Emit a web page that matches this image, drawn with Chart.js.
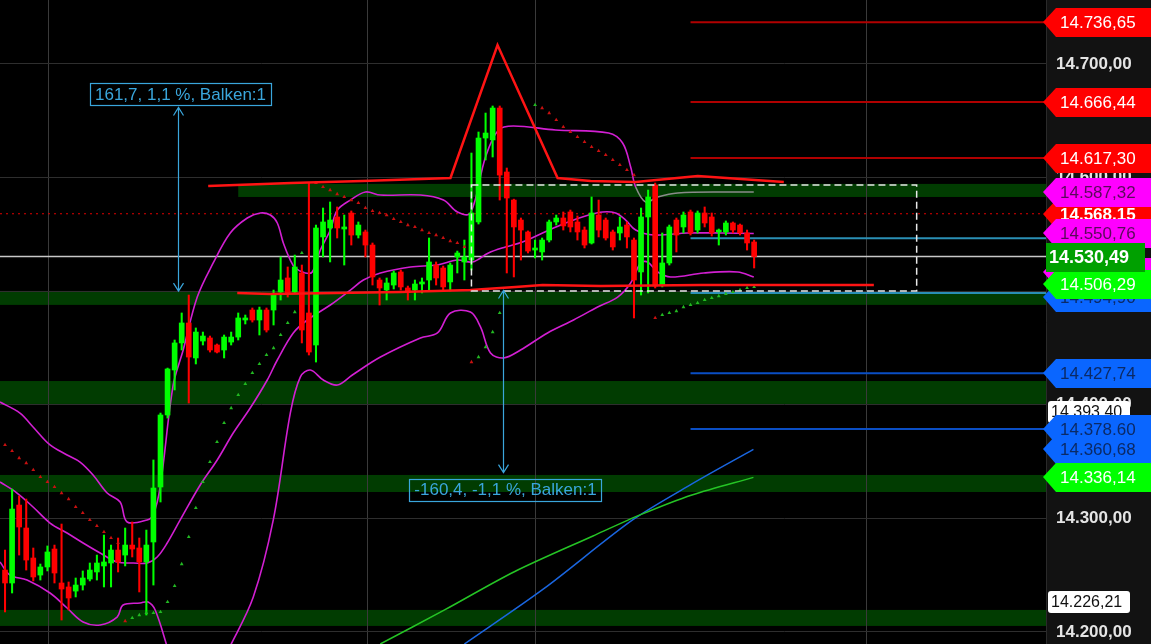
<!DOCTYPE html>
<html lang="de">
<head>
<meta charset="UTF-8">
<title>Chart</title>
<script src="https://cdn.jsdelivr.net/npm/chart.js"></script>
<style>
  body { margin: 0; background: #000; }
  #wrap { width: 1151px; height: 644px; }
</style>
</head>
<body>
<div id="wrap"><canvas id="c" width="1151" height="644"></canvas></div>
<script>
// candle data, one entry per bar
const opens = [14254.5,14243.1,14311.7,14291.5,14265.1,14250.1,14257.2,14273.0,14243.1,14239.6,
  14236.0,14241.3,14246.6,14252.8,14258.1,14260.7,14272.1,14267.7,14276.5,14273.9,
  14261.6,14279.2,14327.6,14391.0,14430.6,14454.4,14472.0,14441.2,14456.1,14458.8,
  14452.6,14448.2,14455.2,14459.6,14474.6,14483.4,14474.6,14483.4,14483.4,14499.3,
  14511.6,14499.3,14516.0,14480.8,14452.6,14547.7,14555.6,14565.3,14554.7,14568.8,
  14549.4,14552.1,14540.6,14509.8,14501.0,14505.4,14516.9,14502.8,14501.0,14506.3,
  14509.8,14523.0,14520.4,14508.1,14530.1,14525.7,14527.4,14560.9,14634.8,14633.1,
  14661.2,14604.9,14580.2,14562.6,14552.1,14536.2,14534.5,14545.0,14560.9,14564.4,
  14569.7,14560.9,14553.8,14542.4,14567.0,14562.6,14552.1,14551.2,14558.2,14545.0,
  14516.9,14565.3,14593.4,14505.4,14524.8,14562.6,14556.5,14569.7,14553.8,14568.8,
  14565.3,14552.1,14552.1,14560.0,14558.2,14551.2,14543.3];
const highs = [14272.1,14325.8,14319.7,14317.0,14273.9,14259.8,14275.7,14276.5,14295.0,14244.0,
  14247.5,14253.7,14260.7,14267.7,14285.3,14276.5,14282.7,14291.5,14296.8,14282.7,
  14289.7,14351.4,14392.7,14432.3,14457.0,14480.8,14496.6,14467.6,14464.0,14460.5,
  14453.5,14461.4,14464.0,14480.8,14479.0,14485.2,14486.0,14485.2,14501.0,14530.1,
  14521.3,14531.8,14523.0,14595.2,14558.2,14573.2,14578.5,14574.1,14567.0,14570.6,
  14560.9,14553.8,14542.4,14511.6,14511.6,14517.7,14518.6,14504.5,14509.8,14511.6,
  14546.8,14525.7,14522.1,14524.8,14535.3,14545.0,14621.6,14640.1,14656.8,14663.0,
  14663.0,14608.4,14581.0,14564.4,14553.0,14545.0,14546.8,14562.6,14567.0,14569.7,
  14571.4,14566.2,14556.5,14582.9,14580.2,14564.4,14553.8,14565.3,14560.9,14546.8,
  14573.2,14589.0,14595.2,14551.2,14558.2,14564.4,14569.7,14571.4,14570.6,14574.1,
  14568.8,14554.7,14561.8,14560.9,14559.1,14553.8,14545.0];
const lows = [14217.6,14234.3,14267.7,14254.5,14244.9,14245.7,14253.7,14243.1,14210.5,14219.3,
  14230.8,14236.9,14244.9,14245.7,14239.6,14239.6,14252.8,14258.1,14266.0,14235.2,
  14214.9,14241.3,14314.4,14388.3,14413.0,14448.2,14401.5,14435.9,14452.6,14446.4,
  14445.6,14441.2,14452.6,14457.0,14471.1,14472.8,14461.4,14464.0,14470.2,14492.2,
  14494.8,14498.4,14454.4,14443.8,14437.6,14530.1,14525.7,14546.8,14523.0,14540.6,
  14546.8,14530.1,14505.4,14487.8,14492.2,14501.9,14501.0,14492.2,14492.2,14498.4,
  14501.0,14505.4,14501.0,14500.1,14516.0,14509.8,14518.6,14559.1,14615.5,14618.1,
  14580.2,14516.0,14512.5,14527.4,14533.6,14529.2,14527.4,14543.3,14558.2,14553.8,
  14552.1,14545.0,14538.0,14541.5,14547.7,14545.0,14536.2,14545.0,14538.0,14476.4,
  14496.6,14498.4,14502.8,14503.7,14523.0,14534.5,14551.2,14549.4,14551.2,14556.5,
  14548.5,14540.6,14549.4,14551.2,14549.4,14536.2,14520.4];
const closes = [14243.1,14308.2,14292.4,14263.3,14248.4,14257.2,14270.4,14251.9,14237.8,14229.9,
  14241.3,14247.5,14254.5,14260.7,14261.6,14272.1,14261.6,14276.5,14273.0,14261.6,
  14276.5,14326.7,14391.0,14431.5,14454.4,14472.0,14442.0,14464.0,14460.5,14448.2,
  14446.4,14459.6,14459.6,14476.4,14476.4,14474.6,14483.4,14465.8,14496.6,14509.8,
  14498.4,14521.3,14465.8,14446.4,14555.6,14560.9,14562.6,14555.6,14556.5,14549.4,
  14558.2,14540.6,14512.5,14502.8,14507.2,14516.0,14503.7,14500.1,14506.3,14508.1,
  14525.7,14511.6,14503.7,14523.0,14533.6,14530.1,14568.8,14634.8,14639.2,14661.2,
  14602.2,14582.0,14556.5,14553.8,14535.3,14538.0,14545.0,14560.9,14564.4,14557.4,
  14556.5,14552.1,14540.6,14568.8,14553.8,14546.8,14538.9,14556.5,14547.7,14509.8,
  14565.3,14582.9,14504.5,14524.8,14556.5,14549.4,14567.0,14551.2,14568.8,14560.0,
  14551.2,14553.8,14560.0,14553.8,14551.2,14542.4,14530.5];

// Bollinger bands (bar index, value)
const bbUpX = [-0.71,2.12,3.97,6.37,8.78,10.62,12.46,14.45,16.29,17.28,20.11,20.96,21.95,23.8,25.21,27.2,29.46,31.87,34.28,36.12,37.54,38.53,39.38,40.37,41.08,42.49,43.48,44.62,46.03,47.03,48.87,51.0,53.12,58.78,62.04,64.02,65.86,67.99,69.83,71.95,77.9,85.41,87.39,88.53,89.24,90.65,92.35,95.18,102.27,105.95];
const bbUpY = [14402.4,14392.7,14380.4,14364.6,14355.8,14349.6,14338.2,14322.3,14314.4,14296.8,14298.6,14303.0,14327.6,14417.4,14448.2,14494.8,14524.8,14551.2,14564.4,14568.8,14567.0,14560.0,14542.4,14527.4,14520.4,14516.0,14516.9,14536.2,14553.8,14571.4,14580.2,14587.3,14584.6,14584.6,14580.2,14569.7,14568.8,14618.1,14641.9,14645.4,14641.9,14639.2,14630.4,14609.3,14591.7,14578.5,14582.9,14586.4,14587.3,14587.3];
const bbMidX = [-0.71,1.7,3.97,6.37,8.78,11.05,13.46,15.86,18.13,20.11,21.53,22.95,24.79,27.62,30.03,32.29,34.7,37.11,38.53,40.79,42.78,46.03,48.87,50.71,53.12,57.37,61.19,64.02,66.15,68.41,70.82,73.23,76.06,79.32,82.58,84.56,86.4,87.82,89.24,91.78,96.6,101.27,105.95];
const bbMidY = [14332.0,14322.3,14310.0,14295.9,14287.1,14278.3,14269.5,14261.6,14260.7,14260.7,14266.0,14278.3,14298.6,14329.4,14351.4,14375.1,14397.1,14421.8,14439.4,14463.2,14474.6,14487.8,14501.0,14509.8,14516.0,14521.3,14523.0,14527.4,14525.7,14533.6,14538.9,14543.3,14551.2,14560.0,14567.0,14569.7,14568.8,14562.6,14553.8,14549.4,14551.2,14551.2,14550.8];
const bbLowX = [-0.71,0.71,3.12,6.37,8.78,11.05,13.46,15.86,16.71,19.12,20.25,21.25,23.09,27.0,31.59,35.13,37.96,40.37,41.78,43.2,45.04,47.03,49.15,53.12,58.78,61.19,63.03,65.86,67.28,68.7,70.54,72.95,76.77,80.45,83.85,86.69,88.53,89.94,90.93,92.35,94.19,98.87,103.68,105.95];
const bbLowY = [14261.6,14250.1,14245.7,14234.3,14221.1,14208.8,14206.1,14213.1,14223.7,14225.5,14226.4,14219.3,14184.1,null,14184.1,14230.8,14298.6,14392.7,14424.4,14430.6,14421.8,14417.4,14426.2,14442.0,14458.8,14463.2,14480.8,14481.6,14468.5,14445.6,14441.2,14448.2,14463.2,14474.6,14486.0,14494.8,14507.2,14524.8,14525.7,14516.9,14512.5,14516.0,14516.9,14512.5];

// red envelope lines
const redUpX = [28.75,40.51,50.57,63.03,69.69,78.19,82.86,89.24,98.02,110.2];
const redUpY = [14592.6,14595.2,14597.0,14599.6,14716.7,14599.6,14597.0,14596.1,14601.4,14596.1];
const redLoX = [32.86,37.54,55.95,65.86,72.24,76.06,84.28,98.44,122.94];
const redLoY = [14498.4,14497.5,14499.3,14501.0,14503.7,14505.4,14504.5,14505.4,14505.4];

// moving averages
const maGreenX = [53.1,62.2,72.0,83.2,90.2,97.2,105.9];
const maGreenY = [14189.4,14219.4,14252.8,14284.5,14303.9,14320.6,14336.1];
const maBlueX = [65.0,76.2,88.8,97.2,105.9];
const maBlueY = [14189.4,14237.9,14298.6,14330.3,14360.7];

// parabolic SAR
const sarRedX = [0,1,2,3,4,5,6,7,8,9,10,11,12,13,14,15,16,17,
  44,45,46,47,48,49,50,51,52,53,54,55,56,57,58,59,60,61,62,63,64,65,66,
  76,77,78,79,80,81,82,83,84,85,86,87,88,89,92];
const sarRedY = [14364.6,14359.3,14353.1,14348.7,14342.6,14336.4,14332.0,14327.6,14322.3,14317.0,14310.0,14304.7,14298.6,14293.3,14288.0,14282.7,14278.3,14209.6,
  14595.2,14591.7,14589.0,14585.5,14582.9,14580.2,14577.6,14573.2,14570.6,14568.8,14567.0,14563.5,14560.9,14558.2,14556.5,14553.8,14551.2,14549.4,14546.8,14544.1,14542.4,14538.9,14437.6,
  14661.2,14656.8,14650.7,14644.5,14640.1,14635.7,14631.3,14626.9,14623.4,14619.9,14615.5,14611.1,14606.7,14602.2,14476.4];
const sarGreenX = [18,19,20,21,22,23,24,25,26,27,28,29,30,31,32,33,34,35,36,37,38,39,40,41,42,
  67,68,69,70,75,
  93,94,95,96,97,98,99,100,101,102,103,104,105,106];
const sarGreenY = [14212.3,14214.9,14216.7,14216.7,14217.6,14226.4,14240.5,14259.8,14283.6,14309.1,14332.0,14349.6,14367.2,14384.0,14397.1,14408.6,14418.3,14428.0,14435.9,14443.8,14449.9,14461.4,14472.0,14481.6,14533.6,
  14442.0,14450.8,14464.0,14480.8,14663.9,
  14479.0,14480.8,14482.5,14486.0,14487.8,14489.6,14492.2,14494.0,14495.7,14497.5,14499.3,14501.0,14502.8,14503.7];

// horizontal levels
const levelStart = 97;
const levelRed = [14736.65, 14666.44, 14617.30];
const levelBlue = [14427.74, 14378.60];
const levelTeal = [14546.5, 14498.4];
const lastPrice = 14530.49;
const dottedLevel = 14568.15;

// support / resistance zones
const zoneTop = [14594.4, 14500.2, 14420.9, 14338.2, 14219.4];
const zoneBottom = [14582.9, 14487.9, 14400.7, 14323.2, 14205.3];
const zoneStart = [33.0, -0.71, -0.71, -0.71, -0.71];

// dashed range box
const rangeBox = { x0: 66.0, x1: 129.0, top: 14593.4, bottom: 14500.1 };

// measurement arrows
const measures = [
  { x: 24.5, from: 14500.0, to: 14661.7, text: '161,7, 1,1 %, Balken:1' },
  { x: 70.4, from: 14500.6, to: 14340.2, text: '-160,4, -1,1 %, Balken:1' }
];

// price tags on the right axis (draw order)
const tagValues = [14736.65, 14666.44, 14617.30, 14568.15, 14494.90, 14517.12, 14587.32, 14550.76, 14506.29, 14530.49, 14393.40, 14427.74, 14378.60, 14360.68, 14336.14, 14226.21];
const tagFill   = ['#ff0000','#ff0000','#ff0000','#ff0000','#0a66ff','#ff00ff','#ff00ff','#ff00ff','#00ff00','#00a000','#ffffff','#0a66ff','#0a66ff','#0a66ff','#00ff00','#ffffff'];
const tagInk    = ['#ffffff','#ffffff','#ffffff','#ffffff','#0b2a66','#5a0a5a','#5a0a5a','#5a0a5a','#ffffff','#ffffff','#111111','#0b2a66','#0b2a66','#0b2a66','#ffffff','#111111'];
const tagKind   = ['arrow','arrow','arrow','arrow','arrow','arrow','arrow','arrow','arrow','rect','box','arrow','arrow','arrow','arrow','box'];

const yTicks = [14200, 14300, 14400, 14500, 14600, 14700];
const xGridAt = [6.09, 51.27, 75.07, 121.95];
const yMin = 14189.4, yMax = 14756.3;
const xMin = -0.71, xMax = 147.3;

function fmt(v) {
  const parts = v.toFixed(2).split('.');
  return parts[0].replace(/\B(?=(\d{3})+(?!\d))/g, '.') + ',' + parts[1];
}

const idx = opens.map((_, i) => i);
const candleColors = idx.map(i => closes[i] >= opens[i] ? '#00ff00' : '#ff0000');
const pairs = (xs, ys) => xs.map((x, i) => ({ x: x, y: ys[i] }));

function lineSet(data, color, width, extra) {
  return Object.assign({
    type: 'line', data: data, borderColor: color, borderWidth: width,
    pointRadius: 0, pointHoverRadius: 0, fill: false, tension: 0, spanGaps: false
  }, extra || {});
}

const datasets = [];

// red envelope
datasets.push(lineSet(pairs(redUpX, redUpY), '#ff1414', 2.5, { order: 1 }));
datasets.push(lineSet(pairs(redLoX, redLoY), '#ff1414', 2.5, { order: 1 }));

// SAR
datasets.push({ type: 'line', data: pairs(sarRedX, sarRedY), showLine: false, pointStyle: 'triangle',
  pointRadius: 2.2, pointHoverRadius: 0, pointBackgroundColor: '#c81010', pointBorderWidth: 0, order: 2 });
datasets.push({ type: 'line', data: pairs(sarGreenX, sarGreenY), showLine: false, pointStyle: 'triangle',
  pointRadius: 2.2, pointHoverRadius: 0, pointBackgroundColor: '#22b822', pointBorderWidth: 0, order: 2 });

// candles
datasets.push({ type: 'bar', data: idx.map(i => ({ x: i, y: [opens[i], closes[i]] })),
  backgroundColor: candleColors, barThickness: 5, minBarLength: 1.5, grouped: false, order: 3 });
datasets.push({ type: 'bar', data: idx.map(i => ({ x: i, y: [lows[i], highs[i]] })),
  backgroundColor: candleColors, barThickness: 1.4, grouped: false, order: 4 });

// bollinger
const bbColor = '#d21fd2';
datasets.push(lineSet(pairs(bbUpX, bbUpY), bbColor, 1.6, { tension: 0.35, order: 5,
  segment: { borderColor: c => c.p0.parsed.x >= 89 ? '#8a8a8a' : undefined } }));
datasets.push(lineSet(pairs(bbMidX, bbMidY), bbColor, 1.6, { tension: 0.35, order: 5 }));
datasets.push(lineSet(pairs(bbLowX, bbLowY), bbColor, 1.6, { tension: 0.35, order: 5 }));

// moving averages
datasets.push(lineSet(pairs(maGreenX, maGreenY), '#25c425', 1.5, { tension: 0.3, order: 6 }));
datasets.push(lineSet(pairs(maBlueX, maBlueY), '#1a66e0', 1.5, { tension: 0.3, order: 6 }));

// level lines
levelRed.forEach(v => datasets.push(lineSet([{ x: levelStart, y: v }, { x: xMax, y: v }], '#b00000', 2, { order: 7 })));
levelBlue.forEach(v => datasets.push(lineSet([{ x: levelStart, y: v }, { x: xMax, y: v }], '#0a4ec4', 2, { order: 7 })));
levelTeal.forEach(v => datasets.push(lineSet([{ x: levelStart, y: v }, { x: xMax, y: v }], '#2a8fb5', 2, { order: 7 })));
datasets.push(lineSet([{ x: xMin, y: lastPrice }, { x: xMax, y: lastPrice }], '#c8c8c8', 1.5, { order: 8 }));
datasets.push(lineSet([{ x: xMin, y: dottedLevel }, { x: xMax, y: dottedLevel }], '#e00000', 1.2, { borderDash: [2, 4], order: 8 }));

const decor = {
  id: 'decor',
  beforeDraw(chart) {
    const ctx = chart.ctx, a = chart.chartArea;
    const xs = chart.scales.x, ys = chart.scales.y;
    ctx.save();
    ctx.fillStyle = '#000';
    ctx.fillRect(0, 0, chart.width, chart.height);
    ctx.fillStyle = '#121212';
    ctx.fillRect(a.right, 0, chart.width - a.right, chart.height);
    ctx.beginPath();
    ctx.rect(a.left, a.top, a.right - a.left, a.bottom - a.top);
    ctx.clip();
    ctx.fillStyle = '#013c01';
    zoneTop.forEach((t, i) => {
      const x0 = Math.max(a.left, xs.getPixelForValue(zoneStart[i]));
      const y0 = ys.getPixelForValue(t), y1 = ys.getPixelForValue(zoneBottom[i]);
      ctx.fillRect(x0, y0, a.right - x0, y1 - y0);
    });
    ctx.restore();
  },
  afterDatasetsDraw(chart) {
    const ctx = chart.ctx;
    const xs = chart.scales.x, ys = chart.scales.y;
    ctx.save();
    // dashed range box
    ctx.strokeStyle = '#e8e8e8';
    ctx.lineWidth = 1.5;
    ctx.setLineDash([7, 4]);
    const bx0 = xs.getPixelForValue(rangeBox.x0), bx1 = xs.getPixelForValue(rangeBox.x1);
    const by0 = ys.getPixelForValue(rangeBox.top), by1 = ys.getPixelForValue(rangeBox.bottom);
    ctx.strokeRect(bx0, by0, bx1 - bx0, by1 - by0);
    ctx.setLineDash([]);
    // measurement arrows
    ctx.strokeStyle = '#3aa6dc';
    ctx.fillStyle = '#3aa6dc';
    ctx.lineWidth = 1.2;
    ctx.font = '17px Arial, "Liberation Sans", sans-serif';
    measures.forEach(m => {
      const x = Math.round(xs.getPixelForValue(m.x)) + 0.5;
      const y0 = ys.getPixelForValue(m.from), y1 = ys.getPixelForValue(m.to);
      const dir = y1 < y0 ? -1 : 1;
      ctx.beginPath();
      ctx.moveTo(x, y0); ctx.lineTo(x, y1);
      ctx.moveTo(x - 5, y1 - dir * 8); ctx.lineTo(x, y1); ctx.lineTo(x + 5, y1 - dir * 8);
      ctx.moveTo(x - 5, y0 + dir * 8); ctx.lineTo(x, y0); ctx.lineTo(x + 5, y0 + dir * 8);
      ctx.stroke();
      const w = ctx.measureText(m.text).width + 10, h = 22;
      const bx = x + 2 - w / 2;
      const by = dir < 0 ? y1 - h - 2 : y1 + 6;
      ctx.strokeRect(Math.round(bx) + 0.5, Math.round(by) + 0.5, Math.round(w), h);
      ctx.textBaseline = 'middle';
      ctx.textAlign = 'center';
      ctx.fillText(m.text, x + 2, by + h / 2 + 1);
    });
    ctx.restore();
  },
  afterDraw(chart) {
    const ctx = chart.ctx, a = chart.chartArea;
    const ys = chart.scales.y;
    ctx.save();
    ctx.textBaseline = 'middle';
    tagValues.forEach((v, i) => {
      const y = Math.round(ys.getPixelForValue(v));
      const kind = tagKind[i];
      ctx.fillStyle = tagFill[i];
      if (kind === 'arrow') {
        ctx.beginPath();
        ctx.moveTo(a.right - 3, y);
        ctx.lineTo(a.right + 10, y - 14);
        ctx.lineTo(chart.width, y - 14);
        ctx.lineTo(chart.width, y + 15);
        ctx.lineTo(a.right + 10, y + 15);
        ctx.closePath();
        ctx.fill();
        ctx.font = (v === dottedLevel ? 'bold ' : '') + '17px Arial, "Liberation Sans", sans-serif';
        ctx.fillStyle = tagInk[i];
        ctx.textAlign = 'left';
        ctx.fillText(fmt(v), a.right + 14, y + 1);
      } else if (kind === 'rect') {
        ctx.fillRect(a.right, y - 14, chart.width - a.right - 6, 29);
        ctx.font = 'bold 18px Arial, "Liberation Sans", sans-serif';
        ctx.fillStyle = tagInk[i];
        ctx.textAlign = 'left';
        ctx.fillText(fmt(v), a.right + 3, y + 1);
      } else {
        ctx.beginPath();
        ctx.roundRect(a.right + 2, y - 11, 82, 22, 3);
        ctx.fill();
        ctx.font = '16px Arial, "Liberation Sans", sans-serif';
        ctx.fillStyle = tagInk[i];
        ctx.textAlign = 'left';
        ctx.fillText(fmt(v), a.right + 5, y + 1);
      }
    });
    ctx.restore();
  }
};

new Chart(document.getElementById('c'), {
  type: 'line',
  data: { datasets: datasets },
  options: {
    responsive: false,
    animation: false,
    events: [],
    layout: { padding: 0, autoPadding: false },
    plugins: { legend: { display: false }, tooltip: { enabled: false } },
    scales: {
      x: {
        type: 'linear', min: xMin, max: xMax, offset: false,
        grid: { color: '#3a3a3a', drawTicks: false, offset: false },
        border: { display: false },
        ticks: { display: false },
        afterBuildTicks: s => { s.ticks = xGridAt.map(v => ({ value: v })); },
        afterFit: s => { s.height = 0; s.paddingLeft = 0; s.paddingRight = 0; }
      },
      y: {
        type: 'linear', position: 'right', min: yMin, max: yMax,
        grid: { color: '#2e2e2e', drawTicks: false },
        border: { display: true, color: '#2a2a2a' },
        ticks: {
          color: '#e4e4e4', padding: 10,
          font: { family: 'Arial, "Liberation Sans", sans-serif', size: 17, weight: 'bold' },
          callback: v => fmt(v)
        },
        afterBuildTicks: s => { s.ticks = yTicks.map(v => ({ value: v })); },
        afterFit: s => { s.width = 105; s.paddingTop = 0; s.paddingBottom = 0; }
      }
    }
  },
  plugins: [decor]
});
</script>
</body>
</html>
